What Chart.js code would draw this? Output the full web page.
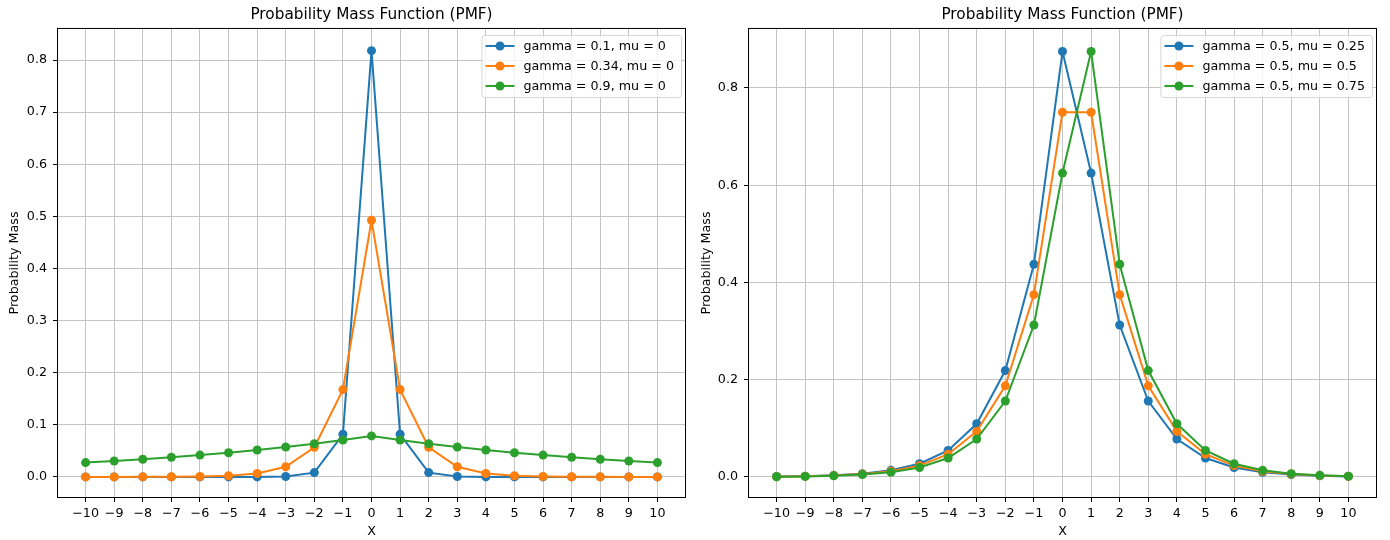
<!DOCTYPE html>
<html>
<head>
<meta charset="utf-8">
<script src="https://cdn.jsdelivr.net/npm/chart.js@4.4.0/dist/chart.umd.min.js"></script>
<style>
  body { margin: 0; background: #fff; }
  #wrap { position: relative; width: 1390px; height: 540px; }
  canvas { position: absolute; top: 0; }
</style>
</head>
<body>
<div id="wrap">
  <canvas id="left" width="700" height="540" style="left:0"></canvas>
  <canvas id="right" width="695" height="540" style="left:695px"></canvas>
</div>
<script>
// x positions shared by both panels
const xValues = [-10, -9, -8, -7, -6, -5, -4, -3, -2, -1, 0, 1, 2, 3, 4, 5, 6, 7, 8, 9, 10];
const xTicks = [-10, -9, -8, -7, -6, -5, -4, -3, -2, -1, 0, 1, 2, 3, 4, 5, 6, 7, 8, 9, 10];

// left panel: mu = 0
const leftLabels = ['gamma = 0.1, mu = 0', 'gamma = 0.34, mu = 0', 'gamma = 0.9, mu = 0'];
const gamma01 = [0, 0, 0, 0, 0, 0, 0, 0.0008, 0.0082, 0.0818, 0.818, 0.0818, 0.0082, 0.0008, 0, 0, 0, 0, 0, 0, 0];
const gamma034 = [0.00001, 0.00003, 0.00009, 0.00026, 0.00076, 0.0022, 0.0066, 0.0194, 0.0569, 0.1675, 0.4925,
    0.1675, 0.0569, 0.0194, 0.0066, 0.0022, 0.00076, 0.00026, 0.00009, 0.00003, 0.00001];
const gamma09 = [0.0274, 0.0305, 0.0338, 0.0376, 0.0418, 0.0464, 0.0516, 0.0573, 0.0637, 0.0707, 0.0786,
    0.0707, 0.0637, 0.0573, 0.0516, 0.0464, 0.0418, 0.0376, 0.0338, 0.0305, 0.0274];
const leftYTicks = [0, 0.1, 0.2, 0.3, 0.4, 0.5, 0.6, 0.7, 0.8];

// right panel: gamma = 0.5
const rightLabels = ['gamma = 0.5, mu = 0.25', 'gamma = 0.5, mu = 0.5', 'gamma = 0.5, mu = 0.75'];
const mu025 = [0.0009, 0.0017, 0.0034, 0.0068, 0.0137, 0.0273, 0.0547, 0.1094, 0.2188, 0.4375, 0.875,
    0.625, 0.3125, 0.1563, 0.0781, 0.0391, 0.0195, 0.0098, 0.0049, 0.0024, 0.0012];
const mu05 = [0.0007, 0.0015, 0.0029, 0.0059, 0.0117, 0.0234, 0.0469, 0.0938, 0.1875, 0.375, 0.75,
    0.75, 0.375, 0.1875, 0.0938, 0.0469, 0.0234, 0.0117, 0.0059, 0.0029, 0.0015];
const mu075 = [0.0006, 0.0012, 0.0024, 0.0049, 0.0098, 0.0195, 0.0391, 0.0781, 0.1563, 0.3125, 0.625,
    0.875, 0.4375, 0.2188, 0.1094, 0.0547, 0.0273, 0.0137, 0.0068, 0.0034, 0.0017];
const rightYTicks = [0, 0.2, 0.4, 0.6, 0.8];

const colors = ['#1f77b4', '#ff7f0e', '#2ca02c'];

Chart.defaults.font.family = 'DejaVu Sans';
Chart.defaults.font.size = 12.7;
Chart.defaults.color = '#000';

// frame around the plot area, like matplotlib axes
const framePlugin = {
    id: 'frame',
    afterDraw(chart) {
        const a = chart.chartArea, ctx = chart.ctx;
        ctx.save();
        ctx.strokeStyle = '#000';
        ctx.lineWidth = 1;
        ctx.strokeRect(a.left + 0.5, a.top + 0.5, a.right - a.left - 1, a.bottom - a.top - 1);
        ctx.restore();
    }
};

// legend box inside the upper right corner
const boxLegend = {
    id: 'boxLegend',
    afterDraw(chart) {
        const a = chart.chartArea, ctx = chart.ctx;
        const sets = chart.data.datasets;
        ctx.save();
        ctx.font = '12.7px DejaVu Sans';
        let maxW = 0;
        sets.forEach(d => { maxW = Math.max(maxW, ctx.measureText(d.label).width); });
        const w = 42 + maxW + 7, h = 62;
        const x = a.right - 5 - w, y = a.top + 7;
        ctx.fillStyle = 'rgba(255,255,255,0.8)';
        ctx.strokeStyle = '#d6d6d6';
        ctx.lineWidth = 1;
        ctx.beginPath();
        ctx.roundRect(x + 0.5, y + 0.5, w, h, 3);
        ctx.fill();
        ctx.stroke();
        sets.forEach((d, i) => {
            const ry = y + 11 + i * 20;
            ctx.strokeStyle = d.borderColor;
            ctx.lineWidth = 2;
            ctx.beginPath();
            ctx.moveTo(x + 4, ry);
            ctx.lineTo(x + 33, ry);
            ctx.stroke();
            ctx.fillStyle = d.borderColor;
            ctx.beginPath();
            ctx.arc(x + 18.5, ry, 4.5, 0, Math.PI * 2);
            ctx.fill();
            ctx.fillStyle = '#000';
            ctx.textBaseline = 'middle';
            ctx.fillText(d.label, x + 42, ry + 1);
        });
        ctx.restore();
    }
};

function fmtX(v) {
    return v < 0 ? '\u2212' + Math.abs(v) : String(v);
}

function makeChart(canvas, labels, series, yTicks, yMin, yMax, yWidth, padRight, yTitlePad, digits) {
    const datasets = series.map((s, i) => ({
        label: labels[i],
        data: xValues.map((x, j) => ({ x: x, y: s[j] })),
        borderColor: colors[i],
        backgroundColor: colors[i],
        borderWidth: 2,
        pointRadius: 4.5,
        pointHoverRadius: 4.5,
        pointBorderWidth: 0,
        order: series.length - i,
        tension: 0
    }));

    return new Chart(canvas, {
        type: 'line',
        data: { datasets: datasets },
        plugins: [framePlugin, boxLegend],
        options: {
            responsive: false,
            animation: false,
            layout: { padding: { left: 0, right: padRight, top: 0, bottom: 0 } },
            plugins: {
                legend: { display: false },
                tooltip: { enabled: false },
                title: {
                    display: true,
                    text: 'Probability Mass Function (PMF)',
                    fullSize: false,
                    font: { size: 15.3, weight: 'normal' },
                    padding: { top: 5.6, bottom: 4 }
                }
            },
            scales: {
                x: {
                    type: 'linear',
                    min: -11,
                    max: 11,
                    afterBuildTicks: s => { s.ticks = xTicks.map(v => ({ value: v })); },
                    afterFit: s => { s.height = 42; },
                    border: { display: false },
                    grid: { color: '#c4c4c4', lineWidth: 1, tickLength: 4, tickColor: '#000' },
                    ticks: { padding: 4, maxRotation: 0, autoSkip: false, callback: v => fmtX(v) },
                    title: { display: true, text: 'X', padding: { top: 0, bottom: 1 } }
                },
                y: {
                    type: 'linear',
                    min: yMin,
                    max: yMax,
                    afterBuildTicks: s => { s.ticks = yTicks.map(v => ({ value: v })); },
                    afterFit: s => { s.width = yWidth; },
                    border: { display: false },
                    grid: { color: '#c4c4c4', lineWidth: 1, tickLength: 4, tickColor: '#000' },
                    ticks: { padding: 6, callback: v => v.toFixed(digits) },
                    title: { display: true, text: 'Probability Mass', padding: { top: yTitlePad, bottom: 0 } }
                }
            }
        }
    });
}

makeChart(document.getElementById('left'), leftLabels, [gamma01, gamma034, gamma09],
    leftYTicks, -0.0405, 0.8615, 57, 14, 7, 1);
makeChart(document.getElementById('right'), rightLabels, [mu025, mu05, mu075],
    rightYTicks, -0.0432, 0.9234, 53, 13, 4, 1);
</script>
</body>
</html>
